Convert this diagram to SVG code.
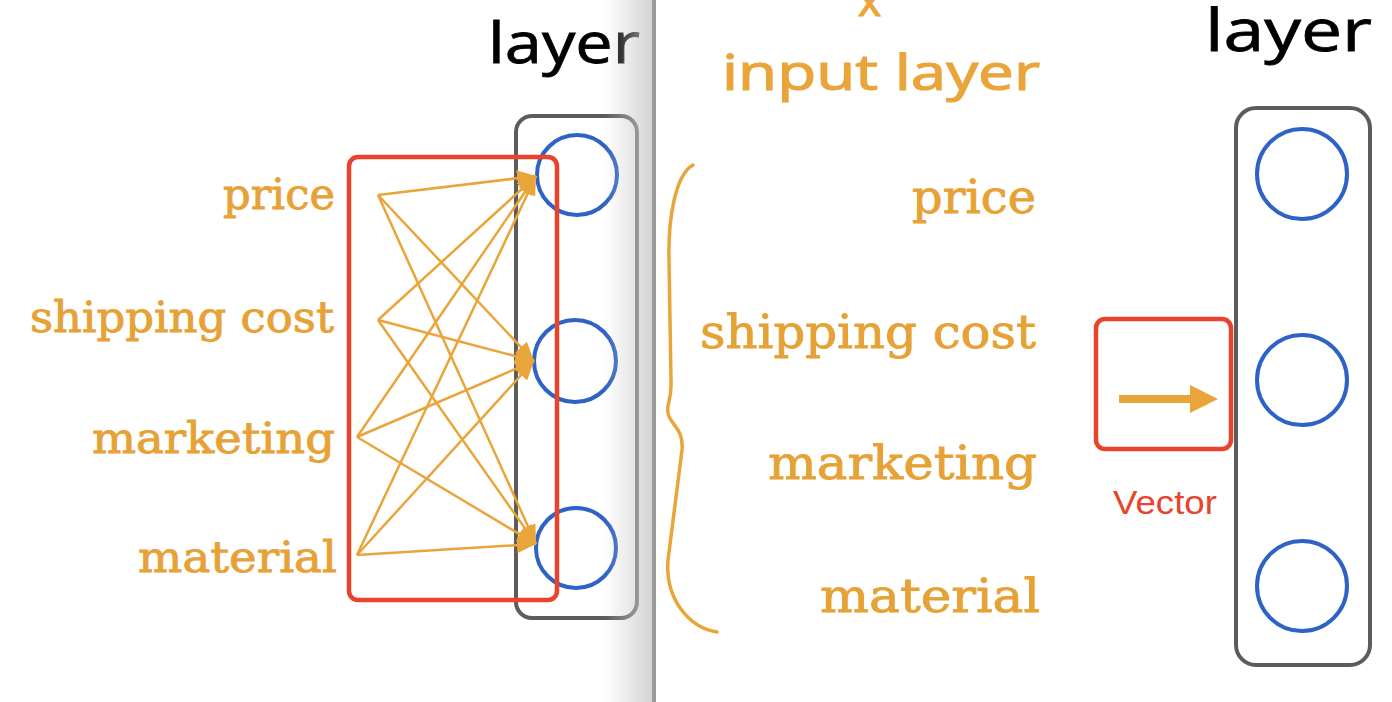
<svg xmlns="http://www.w3.org/2000/svg" width="1392" height="702" viewBox="0 0 1392 702">
<defs>
<style>
.lbl{font-family:"DejaVu Serif","Liberation Serif",serif;fill:#E6A236;stroke:#E6A236;stroke-width:0.9;}
.hdr{font-family:"Open Sans","DejaVu Sans",sans-serif;fill:#000;stroke:#000;stroke-width:0.8;}
.edge{stroke:#E9A53A;stroke-width:2.5;fill:none;marker-end:url(#ah);}
.box{fill:none;stroke:#5c5c5c;stroke-width:4;}
.neuron{fill:none;stroke:#2F62C6;stroke-width:4;}
.hl{fill:none;stroke:#E8432B;stroke-width:4.5;}
.hand{font-family:"Open Sans","DejaVu Sans",sans-serif;fill:#E9A53A;stroke:#E9A53A;stroke-width:1.2;}
</style>
<marker id="ah" markerUnits="userSpaceOnUse" markerWidth="20" markerHeight="16" refX="19" refY="8" orient="auto">
<path d="M0,0 L19,8 L0,16 z" fill="#E9A53A"/>
</marker>
<linearGradient id="shade" x1="0" y1="0" x2="1" y2="0">
<stop offset="0" stop-color="#c8c8c8" stop-opacity="0"/>
<stop offset="1" stop-color="#c8c8c8" stop-opacity="0.8"/>
</linearGradient>
</defs>
<rect x="0" y="0" width="1392" height="702" fill="#ffffff"/>

<!-- LEFT PANEL -->
<g id="left-header"><text class="hdr" x="488" y="63" font-size="56" textLength="152" lengthAdjust="spacingAndGlyphs">layer</text></g>
<g id="left-layer">
<rect class="box" x="516" y="116" width="121" height="502" rx="16"/>
<circle class="neuron" cx="577" cy="175" r="40"/>
<circle class="neuron" cx="575" cy="361" r="41"/>
<circle class="neuron" cx="576" cy="548" r="40"/>
</g>
<g id="left-inputs">
<text class="lbl" x="335" y="209" font-size="43" text-anchor="end" textLength="112" lengthAdjust="spacingAndGlyphs">price</text>
<text class="lbl" x="334" y="332" font-size="43" text-anchor="end" textLength="304" lengthAdjust="spacingAndGlyphs">shipping cost</text>
<text class="lbl" x="335" y="453" font-size="43" text-anchor="end" textLength="243" lengthAdjust="spacingAndGlyphs">marketing</text>
<text class="lbl" x="337" y="572" font-size="43" text-anchor="end" textLength="199" lengthAdjust="spacingAndGlyphs">material</text>
</g>
<g id="connectors">
<line class="edge" x1="378" y1="195" x2="536" y2="176"/>
<line class="edge" x1="378" y1="195" x2="534" y2="361"/>
<line class="edge" x1="378" y1="195" x2="536" y2="544"/>
<line class="edge" x1="378" y1="320" x2="536" y2="176"/>
<line class="edge" x1="378" y1="320" x2="534" y2="361"/>
<line class="edge" x1="378" y1="320" x2="536" y2="544"/>
<line class="edge" x1="357" y1="437" x2="536" y2="176"/>
<line class="edge" x1="357" y1="437" x2="534" y2="361"/>
<line class="edge" x1="357" y1="437" x2="536" y2="544"/>
<line class="edge" x1="357" y1="555" x2="536" y2="176"/>
<line class="edge" x1="357" y1="555" x2="534" y2="361"/>
<line class="edge" x1="357" y1="555" x2="536" y2="544"/>
<line x1="1119" y1="399" x2="1194" y2="399" stroke="#E9A53A" stroke-width="8"/>
<polygon points="1190,385 1218,399 1190,413" fill="#E9A53A"/>
</g>
<g id="left-highlight"><rect class="hl" x="349" y="157" width="208" height="443" rx="9"/></g>

<!-- divider / page shadow -->
<rect x="605" y="0" width="48" height="702" fill="url(#shade)"/>
<rect x="652" y="0" width="4" height="702" fill="#9a9a9a"/>

<!-- RIGHT PANEL -->
<g id="right-header">
<text class="hand" x="858" y="16" font-size="44">x</text>
<text class="hand" x="722" y="90" font-size="50" textLength="318" lengthAdjust="spacingAndGlyphs">input layer</text>
<text class="hdr" x="1205" y="51" font-size="58" textLength="167" lengthAdjust="spacingAndGlyphs">layer</text>
</g>
<g id="brace">
<path d="M693,165 C675,175 668,220 669,260 L671,380 C672,400 666,405 668,413 C670,425 684,428 682,450 L668,560 C665,600 690,628 717,632" fill="none" stroke="#E9A53A" stroke-width="3.5" stroke-linecap="round"/>
</g>
<g id="right-inputs">
<text class="lbl" x="1036" y="213" font-size="47" text-anchor="end" textLength="124" lengthAdjust="spacingAndGlyphs">price</text>
<text class="lbl" x="1036" y="348" font-size="47" text-anchor="end" textLength="336" lengthAdjust="spacingAndGlyphs">shipping cost</text>
<text class="lbl" x="1037" y="479" font-size="47" text-anchor="end" textLength="269" lengthAdjust="spacingAndGlyphs">marketing</text>
<text class="lbl" x="1040" y="612" font-size="47" text-anchor="end" textLength="220" lengthAdjust="spacingAndGlyphs">material</text>
</g>
<g id="vector-highlight">
<rect class="hl" x="1096" y="319" width="135" height="130" rx="9"/>
<text x="1113" y="514" font-family="'Liberation Sans','Helvetica',sans-serif" font-size="33" fill="#E8432B" textLength="104" lengthAdjust="spacingAndGlyphs">Vector</text>
</g>
<g id="right-layer">
<rect class="box" x="1236" y="108" width="134" height="557" rx="20"/>
<circle class="neuron" cx="1302" cy="174" r="45"/>
<circle class="neuron" cx="1302" cy="380" r="45"/>
<circle class="neuron" cx="1302" cy="586" r="45"/>
</g>
</svg>
